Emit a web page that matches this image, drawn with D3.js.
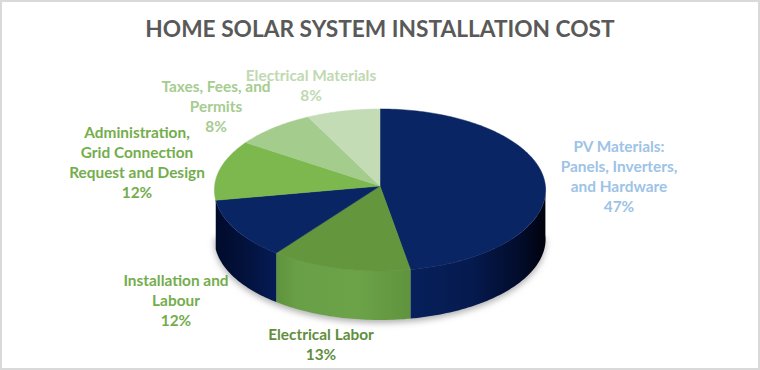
<!DOCTYPE html>
<html>
<head>
<meta charset="utf-8">
<script src="https://cdn.jsdelivr.net/npm/d3@7"></script>
<style>
  html, body { margin: 0; padding: 0; background: white; }
  svg { display: block; }
  text { font-family: Lato, "Open Sans", sans-serif; font-weight: 700; }
</style>
</head>
<body>
<div id="container"></div>
<script>
let w = 760;
let h = 370;

// values, labels show them rounded
let categories = [
  ["PV Materials:", "Panels, Inverters,", "and Hardware"],
  ["Electrical Labor"],
  ["Installation and", "Labour"],
  ["Administration,", "Grid Connection", "Request and Design"],
  ["Taxes, Fees, and", "Permits"],
  ["Electrical Materials"]
];
let values = [47.2, 13.1, 11.9, 12.1, 8.2, 7.5];
let percentLabels = ["47%", "13%", "12%", "12%", "8%", "8%"];
let sliceColors = ["#0a2563", "#63963d", "#0a2563", "#7db84f", "#a4cc8d", "#c3dcb6"];
let labelColors = ["#9dc3e6", "#5f8f3c", "#74ad4c", "#74ad4c", "#a6cc90", "#c0d9b2"];
let labelX = [619, 321, 176, 137, 216, 311];
let labelY = [152, 340, 286, 138, 92, 81];

// disc geometry
let cx = 380, cy = 186, rx = 165.4, ry = 80.8, persp = 0.049, depth = 49;

let viz = d3.select("#container")
  .append("svg")
    .attr("width", w)
    .attr("height", h)
;

let defs = viz.append("defs");

let blur = defs.append("filter").attr("id", "soft")
    .attr("x", "-10%").attr("y", "-10%").attr("width", "120%").attr("height", "130%");
blur.append("feGaussianBlur").attr("stdDeviation", 3);

// unit circle to screen, the near side a little bigger
function project(angle, r) {
  let X = r * Math.sin(angle);
  let Y = -r * Math.cos(angle);
  let s = 1 - persp * Y;
  return [cx + rx * X / s, cy + ry * Y / s];
}

let pie = d3.pie().sort(null).value(function(d){ return d; });
let slices = pie(values);
let line = d3.line();

function arcPoints(a0, a1, r) {
  let n = Math.max(2, Math.ceil((a1 - a0) / 0.02));
  return d3.range(n + 1).map(function(i){
    return project(a0 + (a1 - a0) * i / n, r);
  });
}

function wallGradient(id, x1, x2, stops) {
  let g = defs.append("linearGradient").attr("id", id)
      .attr("gradientUnits", "userSpaceOnUse")
      .attr("x1", x1).attr("x2", x2).attr("y1", 0).attr("y2", 0);
  stops.forEach(function(s){
    g.append("stop").attr("offset", s[0]).attr("stop-color", s[1]);
  });
}

wallGradient("wall0", 411, 546, [[0, "#07205c"], [0.45, "#051a4e"], [0.8, "#020c2c"], [1, "#00020c"]]);
wallGradient("wall1", 276, 412, [[0, "#5f923c"], [0.15, "#699f46"], [0.6, "#6ca349"], [1, "#5f923c"]]);
wallGradient("wall2", 214, 277, [[0, "#010a2a"], [0.5, "#03123c"], [1, "#051c56"]]);

// shadow under the disc
let shadowPts = arcPoints(Math.PI / 2, Math.PI * 1.5, 1).map(function(p){ return [p[0], p[1] + depth + 3]; });
viz.append("path")
    .attr("d", line(shadowPts))
    .attr("fill", "#b0b0b0")
    .attr("filter", "url(#soft)")
;

// side walls, only the front half shows
let front0 = Math.PI / 2, front1 = Math.PI * 1.5;
slices.forEach(function(d, i){
  let a0 = Math.max(d.startAngle, front0);
  let a1 = Math.min(d.endAngle, front1);
  if (a1 <= a0) return;
  let top = arcPoints(a0, a1, 1);
  let bottom = top.map(function(p){ return [p[0], p[1] + depth]; }).reverse();
  viz.append("path")
      .attr("d", line(top.concat(bottom)) + "Z")
      .attr("fill", "url(#wall" + i + ")")
  ;
});

// top of the disc
viz.selectAll(".slice").data(slices).enter()
  .append("path")
    .attr("class", "slice")
    .attr("d", function(d){
      return line([[cx, cy]].concat(arcPoints(d.startAngle, d.endAngle, 1))) + "Z";
    })
    .attr("fill", function(d, i){ return sliceColors[i]; })
    .attr("stroke", function(d, i){ return sliceColors[i]; })
    .attr("stroke-width", 0.5)
;

viz.append("text")
    .attr("x", 380)
    .attr("y", 37)
    .attr("text-anchor", "middle")
    .attr("font-size", 22.7)
    .attr("fill", "#595959")
    .text("HOME SOLAR SYSTEM INSTALLATION COST")
;

// labels, name lines then the percent
categories.forEach(function(lines, i){
  let label = viz.append("text")
      .attr("text-anchor", "middle")
      .attr("font-size", 15.4)
      .attr("fill", labelColors[i]);
  lines.concat([percentLabels[i]]).forEach(function(t, j){
    label.append("tspan")
        .attr("x", labelX[i])
        .attr("y", labelY[i] + j * 20)
        .text(t);
  });
});

viz.append("rect")
    .attr("x", 1)
    .attr("y", 1)
    .attr("width", w - 2)
    .attr("height", h - 2)
    .attr("fill", "none")
    .attr("stroke", "#d9d9d9")
    .attr("stroke-width", 2)
;
</script>
</body>
</html>
